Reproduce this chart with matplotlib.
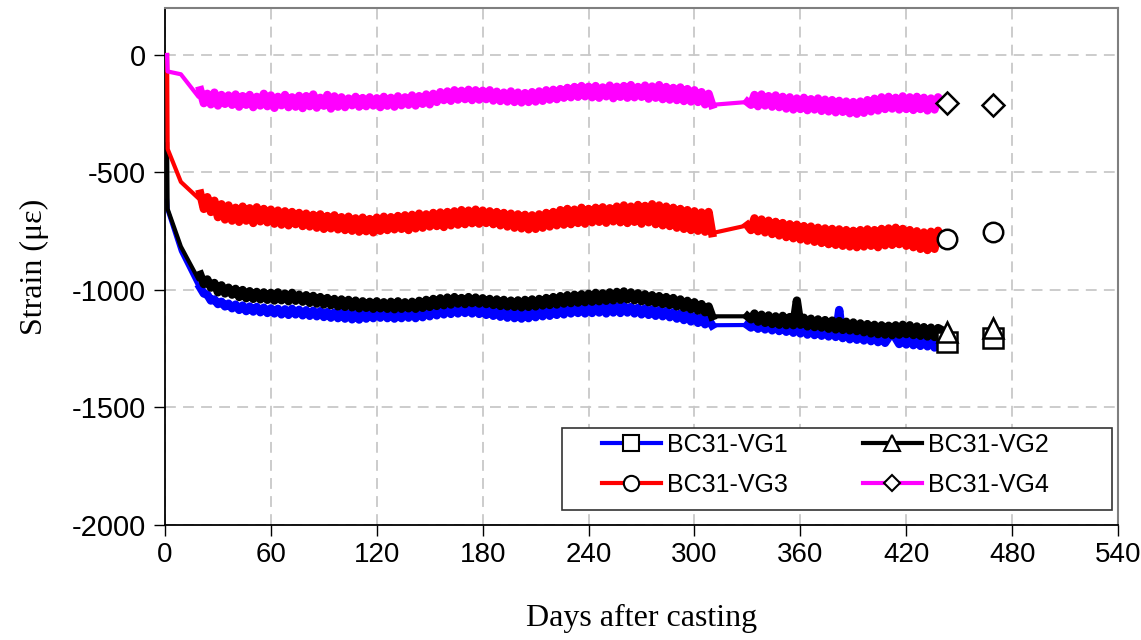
"""Strain history of the BC31 vibrating-wire gauges."""

import matplotlib.pyplot as plt
import numpy as np
from matplotlib.lines import Line2D
from matplotlib.patches import Rectangle

plt.rcParams["axes.unicode_minus"] = False

# logger sampling: first days by hand, then every 2 days, gap ~310-330
early_days = [1.2, 1.5, 9.0, 19.0]
seg1_days = np.arange(20, 311, 2)
seg2_days = np.arange(330, 441, 2)

vg1_early = [-620, -660, -835, -985]
vg1_seg1 = [
    -990, -1015, -1020, -1045, -1040, -1060, -1050, -1070, -1058, -1078,
    -1062, -1085, -1066, -1090, -1070, -1092, -1072, -1095, -1075, -1098,
    -1078, -1100, -1080, -1104, -1082, -1106, -1080, -1104, -1084, -1108,
    -1086, -1110, -1088, -1112, -1090, -1115, -1094, -1118, -1096, -1120,
    -1098, -1122, -1100, -1125, -1102, -1126, -1098, -1122, -1096, -1120,
    -1094, -1118, -1092, -1120, -1095, -1122, -1093, -1120, -1094, -1118,
    -1092, -1120, -1090, -1116, -1086, -1112, -1082, -1108, -1078, -1104,
    -1076, -1102, -1074, -1100, -1072, -1098, -1074, -1100, -1076, -1102,
    -1080, -1106, -1084, -1110, -1088, -1114, -1090, -1118, -1092, -1120,
    -1094, -1122, -1092, -1120, -1090, -1116, -1088, -1112, -1084, -1110,
    -1080, -1106, -1078, -1104, -1076, -1100, -1074, -1098, -1072, -1100,
    -1074, -1098, -1070, -1096, -1072, -1100, -1068, -1096, -1070, -1098,
    -1068, -1096, -1072, -1100, -1076, -1104, -1078, -1106, -1082, -1110,
    -1086, -1112, -1090, -1116, -1095, -1122, -1100, -1128, -1106, -1134,
    -1112, -1140, -1118, -1146, -1125, -1150,
]
vg1_seg2 = [
    -1149, -1160, -1145, -1165, -1148, -1168, -1150, -1172, -1152, -1175,
    -1155, -1178, -1158, -1182, -1160, -1185, -1165, -1190, -1168, -1192,
    -1172, -1195, -1175, -1198, -1178, -1200, -1085, -1205, -1185, -1210,
    -1190, -1212, -1192, -1215, -1195, -1218, -1198, -1222, -1200, -1225,
    -1202, -1160, -1205, -1230, -1208, -1232, -1206, -1235, -1210, -1238,
    -1212, -1240, -1215, -1245, -1218, -1230,
]

vg2_early = [-380, -655, -815, -955]
vg2_seg1 = [
    -935, -975, -955, -990, -970, -1010, -980, -1015, -990, -1020,
    -995, -1030, -1000, -1035, -1005, -1038, -1008, -1040, -1010, -1042,
    -1012, -1045, -1010, -1044, -1015, -1048, -1012, -1046, -1020, -1050,
    -1022, -1055, -1025, -1058, -1030, -1062, -1034, -1065, -1038, -1070,
    -1040, -1072, -1042, -1074, -1045, -1078, -1048, -1076, -1050, -1080,
    -1048, -1078, -1052, -1080, -1050, -1082, -1048, -1080, -1052, -1078,
    -1050, -1080, -1046, -1076, -1042, -1072, -1038, -1068, -1035, -1065,
    -1032, -1062, -1030, -1058, -1034, -1060, -1030, -1056, -1032, -1058,
    -1035, -1060, -1038, -1064, -1040, -1068, -1042, -1070, -1045, -1072,
    -1044, -1074, -1042, -1072, -1040, -1070, -1038, -1066, -1034, -1064,
    -1030, -1062, -1026, -1058, -1022, -1056, -1020, -1054, -1018, -1052,
    -1016, -1050, -1012, -1048, -1014, -1046, -1010, -1044, -1008, -1042,
    -1006, -1040, -1010, -1044, -1014, -1048, -1018, -1052, -1022, -1056,
    -1026, -1060, -1030, -1064, -1034, -1070, -1040, -1076, -1046, -1082,
    -1052, -1088, -1060, -1095, -1070, -1112,
]
vg2_seg2 = [
    -1112, -1125, -1100, -1135, -1105, -1140, -1108, -1145, -1112, -1148,
    -1110, -1150, -1115, -1150, -1045, -1148, -1118, -1155, -1122, -1158,
    -1125, -1160, -1128, -1165, -1130, -1168, -1132, -1170, -1135, -1172,
    -1138, -1175, -1142, -1180, -1145, -1185, -1148, -1188, -1150, -1190,
    -1152, -1192, -1150, -1190, -1148, -1188, -1150, -1192, -1155, -1195,
    -1158, -1198, -1160, -1200, -1162, -1170,
]

vg3_early = [0, -400, -540, -610]
vg3_seg1 = [
    -590, -655, -605, -668, -620, -690, -635, -700, -640, -705,
    -650, -710, -645, -705, -652, -715, -648, -708, -655, -712,
    -658, -718, -662, -722, -665, -725, -668, -720, -672, -728,
    -675, -730, -680, -735, -678, -740, -685, -738, -682, -742,
    -690, -745, -688, -748, -695, -752, -692, -750, -698, -755,
    -692, -748, -688, -745, -690, -742, -685, -740, -682, -745,
    -680, -738, -675, -735, -678, -730, -672, -728, -670, -732,
    -668, -725, -665, -722, -660, -720, -662, -716, -658, -718,
    -662, -715, -665, -720, -668, -725, -672, -730, -675, -735,
    -678, -738, -680, -742, -682, -740, -678, -735, -672, -730,
    -668, -725, -660, -722, -655, -720, -658, -715, -650, -718,
    -655, -712, -650, -710, -648, -714, -652, -708, -645, -712,
    -640, -715, -645, -710, -638, -718, -642, -712, -635, -720,
    -640, -725, -645, -728, -650, -735, -655, -740, -660, -745,
    -665, -748, -670, -752, -668, -758,
]
vg3_seg2 = [
    -725, -745, -695, -750, -700, -755, -705, -762, -710, -768,
    -715, -775, -720, -780, -722, -785, -728, -790, -730, -795,
    -735, -800, -738, -805, -740, -808, -742, -812, -745, -815,
    -748, -818, -745, -815, -742, -812, -745, -818, -740, -810,
    -738, -808, -735, -805, -740, -812, -745, -818, -750, -825,
    -755, -830, -752, -825, -748, -785,
]

vg4_early = [0, -70, -82, -178]
vg4_seg1 = [
    -150, -205, -165, -210, -160, -215, -170, -208, -172, -212,
    -168, -220, -175, -212, -170, -222, -178, -215, -165, -218,
    -172, -225, -178, -214, -170, -222, -180, -220, -174, -226,
    -175, -218, -168, -224, -182, -216, -170, -228, -176, -220,
    -180, -222, -185, -214, -178, -220, -183, -218, -180, -215,
    -184, -222, -178, -216, -182, -220, -176, -214, -180, -212,
    -172, -215, -175, -208, -168, -210, -165, -200, -158, -192,
    -155, -195, -150, -190, -152, -188, -148, -192, -150, -190,
    -152, -188, -150, -194, -156, -196, -160, -198, -155, -200,
    -160, -202, -162, -200, -158, -198, -155, -195, -150, -190,
    -148, -188, -145, -182, -140, -180, -136, -178, -132, -176,
    -135, -180, -132, -182, -138, -176, -130, -184, -135, -178,
    -132, -182, -128, -180, -136, -178, -130, -186, -134, -182,
    -128, -188, -136, -190, -140, -192, -138, -196, -145, -198,
    -150, -200, -158, -210, -165, -212,
]
vg4_seg2 = [
    -200, -212, -170, -218, -168, -215, -175, -220, -172, -222,
    -178, -228, -180, -232, -185, -230, -182, -235, -188, -232,
    -185, -238, -190, -240, -192, -244, -195, -242, -198, -248,
    -200, -250, -198, -246, -192, -240, -186, -236, -180, -230,
    -178, -228, -182, -232, -176, -230, -180, -234, -178, -230,
    -182, -236, -185, -232, -180, -200,
]

# hand readings marked with symbols after the logger record ends
mark_days = [443, 469]
vg1_marks = [-1221, -1204]
vg2_marks = [-1179, -1162]
vg3_marks = [-783, -753]
vg4_marks = [-204, -213]

labels = ["BC31-VG1", "BC31-VG2", "BC31-VG3", "BC31-VG4"]
colors = ["#0000ff", "#000000", "#ff0000", "#ff00ff"]
markers = ["s", "^", "o", "D"]
mark_sizes = [14, 15, 14, 11]

SANS = ["Liberation Sans", "DejaVu Sans"]
SERIF = ["Liberation Serif", "DejaVu Serif"]


def main() -> None:
    fig = plt.figure(figsize=(11.41, 6.40), dpi=100)
    ax = fig.add_axes([0.1446, 0.1797, 0.8353, 0.8078])

    series = [
        (vg1_early, vg1_seg1, vg1_seg2, vg1_marks),
        (vg2_early, vg2_seg1, vg2_seg2, vg2_marks),
        (vg3_early, vg3_seg1, vg3_seg2, vg3_marks),
        (vg4_early, vg4_seg1, vg4_seg2, vg4_marks),
    ]
    for i, (early, seg1, seg2, marks) in enumerate(series):
        days = np.concatenate([early_days, seg1_days, seg2_days])
        values = np.concatenate([early, seg1, seg2])
        # thin line carries the early drop and the gap, thick noisy bands on top
        ax.plot(days, values, color=colors[i], lw=3.0, zorder=2 + i)
        ax.plot(seg1_days, seg1, color=colors[i], lw=6.0, zorder=2 + i)
        ax.plot(seg2_days, seg2, color=colors[i], lw=6.0, zorder=2 + i)
    for i, (_, _, _, marks) in enumerate(series):
        ax.plot(mark_days, marks, ls="none", marker=markers[i], ms=mark_sizes[i],
                mfc="white", mec="black", mew=1.8, zorder=10 + i)

    ax.set_xlim(0, 540)
    ax.set_ylim(-2000, 200)
    ax.set_xticks(np.arange(0, 541, 60))
    ax.set_yticks(np.arange(-2000, 1, 500))
    ax.grid(True, color="#c8c8c8", ls=(0, (6, 4)), lw=1.3)
    ax.set_axisbelow(True)

    ax.tick_params(axis="both", direction="out", length=8, width=1.0, colors="black")
    ax.tick_params(axis="x", pad=4)
    ax.tick_params(axis="y", pad=6)
    for lab in ax.get_xticklabels():
        lab.set_family(SANS)
        lab.set_fontsize(20)
    for lab in ax.get_yticklabels():
        lab.set_family(SANS)
        lab.set_fontsize(21)

    for side in ["left", "bottom"]:
        ax.spines[side].set_color("black")
        ax.spines[side].set_linewidth(1.3)
    for side in ["top", "right"]:
        ax.spines[side].set_color("#7f7f7f")
        ax.spines[side].set_linewidth(1.5)

    ax.set_xlabel("Days after casting", family=SERIF, fontsize=23, labelpad=26)
    ax.set_ylabel("Strain (\u03bc\u03b5)", family=SERIF, fontsize=23, labelpad=16)

    # legend box drawn by hand so the padding matches the original
    ax.add_patch(Rectangle((0.4166, 0.029), 0.577, 0.1586, transform=ax.transAxes,
                           facecolor="white", edgecolor="#333333", lw=1.2, zorder=20))
    handles = [
        Line2D([], [], color=colors[i], lw=3.0, marker=markers[i],
               ms=mark_sizes[i] - 3, mfc="white", mec="black", mew=1.5)
        for i in range(4)
    ]
    # matplotlib fills legend columns first; reorder so rows read VG1 VG2 / VG3 VG4
    order = [0, 2, 1, 3]
    leg = ax.legend([handles[k] for k in order], [labels[k] for k in order],
                    ncol=2, loc="upper left", bbox_to_anchor=(0.4586, 0.178),
                    frameon=False, prop={"family": SANS, "size": 18},
                    handlelength=2.35, handletextpad=0.25, columnspacing=3.0,
                    labelspacing=0.65, borderpad=0, borderaxespad=0)
    leg.set_zorder(21)

    fig.savefig("out.png", dpi=100)
    plt.close(fig)


if __name__ == "__main__":
    main()
